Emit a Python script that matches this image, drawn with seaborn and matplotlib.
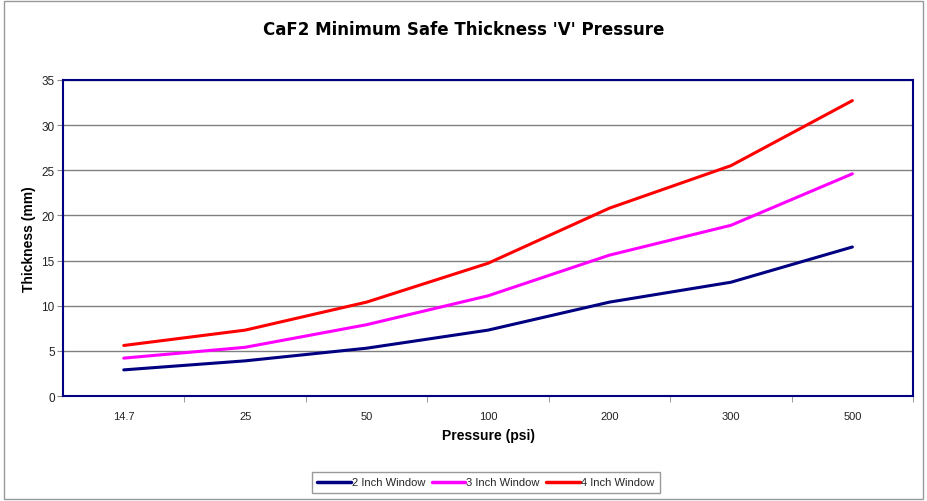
import numpy as np
import pandas as pd
import seaborn as sns
import matplotlib.pyplot as plt
from matplotlib.ticker import FixedLocator

# data
pressure = ['14.7', '25', '50', '100', '200', '300', '500']
two_inch = [2.9, 3.9, 5.3, 7.3, 10.4, 12.6, 16.5]
three_inch = [4.2, 5.4, 7.9, 11.1, 15.6, 18.9, 24.6]
four_inch = [5.6, 7.3, 10.4, 14.7, 20.8, 25.5, 32.7]
series_names = ['2 Inch Window', '3 Inch Window', '4 Inch Window']
colors = ['#000080', '#FF00FF', '#FF0000']

df = pd.DataFrame({
    'pos': list(range(len(pressure))) * 3,
    'thick': two_inch + three_inch + four_inch,
    'series': [s for s in series_names for _ in pressure],
})

sns.set_style('white')
plt.rcParams['font.family'] = ['Liberation Sans', 'DejaVu Sans']

fig = plt.figure(figsize=(9.27, 5.02), dpi=100)
ax = fig.add_axes([0.068, 0.209, 0.917, 0.630])

sns.lineplot(data=df, x='pos', y='thick', hue='series', palette=colors,
             linewidth=2.2, ax=ax, legend=False)

ax.set_xlim(-0.5, len(pressure) - 0.5)
ax.set_ylim(0, 35)
ax.set_yticks(range(0, 36, 5))
ax.set_xticks(range(len(pressure)))
ax.set_xticklabels(pressure)
ax.xaxis.set_minor_locator(FixedLocator(np.arange(0.5, len(pressure) - 0.4, 1)))
ax.tick_params(axis='x', which='major', length=0, labelsize=8, pad=11, colors='#222222')
ax.tick_params(axis='x', which='minor', length=4, color='#888888', bottom=True)
ax.tick_params(axis='y', which='major', length=4, labelsize=8.5, left=True, pad=2,
               color='#888888', labelcolor='#222222')
ax.grid(axis='y', color='#808080', linewidth=1)
for s in ax.spines.values():
    s.set_color('#000080')
    s.set_linewidth(1.5)

ax.set_xlabel('Pressure (psi)', fontsize=10, fontweight='bold', labelpad=5, color='black')
ax.set_ylabel('Thickness (mm)', fontsize=10, fontweight='bold', labelpad=4, color='black')
fig.text(0.5, 0.94, "CaF2 Minimum Safe Thickness 'V' Pressure", ha='center', va='center',
         fontsize=12, fontweight='bold', family='DejaVu Sans', color='black')

handles = [plt.Line2D([], [], color=c, linewidth=2.5) for c in colors]
fig.legend(handles, series_names, loc='center', bbox_to_anchor=(0.524, 0.037),
           ncol=3, fontsize=8, frameon=True, fancybox=False, edgecolor='#808080',
           handlelength=3, handletextpad=0.1, columnspacing=0.6, borderpad=0.5)

fig.patches.append(plt.Rectangle((0.004, 0.004), 0.992, 0.992, transform=fig.transFigure,
                                 fill=False, edgecolor='#999999', linewidth=1))

fig.savefig('out.png', dpi=100)
